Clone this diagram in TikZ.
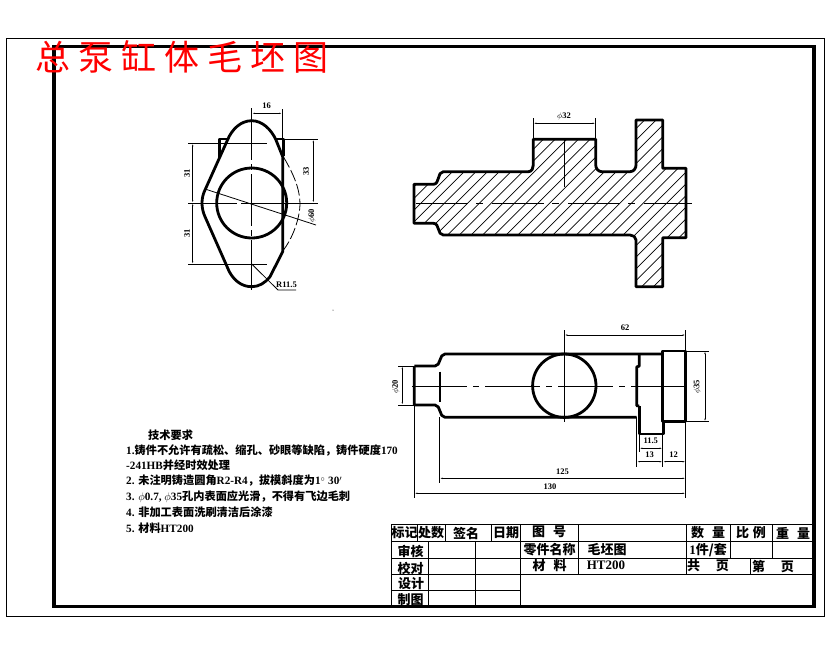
\documentclass[tikz,border=0pt]{standalone}
\usepackage{fontspec}
\setmainfont{Liberation Serif}
\newfontfamily\cjk{Noto Sans CJK SC}
\newfontfamily\cjktitle[LetterSpace=23]{Noto Sans CJK SC}
\usetikzlibrary{arrows.meta}

\begin{document}
\begin{tikzpicture}[x=1pt,y=-1pt]

\tikzset{thick line/.style = {line width=2.8pt, line join=round}}
\tikzset{thin line/.style = {line width=0.8pt}}
\tikzset{axis/.style = {line width=0.8pt, dash pattern=on 55pt off 6pt on 6pt off 6pt}}
\tikzset{dim/.style = {line width=0.8pt, {Latex[length=3pt,width=1.4pt]}-{Latex[length=3pt,width=1.4pt]}}}
\tikzset{dimtext/.style = {inner sep=0pt, font=\bfseries\fontsize{8.5}{9}\selectfont}}
\tikzset{note/.style = {anchor=west, inner sep=0pt, font=\bfseries\fontsize{11.2}{11}\selectfont}}
\tikzset{cell/.style = {inner sep=0pt, font=\bfseries\fontsize{13}{13}\selectfont}}

\useasboundingbox (0,0) rectangle (830,654);
%frames
\draw [line width=0.9pt] (6.5,38.5) rectangle (824,616.5);
\draw [line width=3.6pt] (54,46.5) rectangle (814,606.5);
\node [inner sep=0pt, anchor=west, red, font=\cjktitle\fontsize{35}{35}\selectfont] (title) at (35,57) {总泵缸体毛坯图};

%left view
\draw [thick line] (227.5,140) .. controls (232,129) and (241,120.7) .. (251.7,120.7)
  .. controls (262,120.7) and (271,129) .. (276,140) -- (282.7,156.7) -- (282.7,251.7) -- (270,276.7)
  .. controls (265,283) and (259,286.7) .. (251.7,286.7) .. controls (243,286.7) and (235,282) .. (229.3,271.7)
  -- (205,216.7) .. controls (201,208) and (201,198) .. (205,190) -- cycle;
\draw [thick line] (227,139) -- (219.5,139) -- (219.5,158);
\draw [thick line] (276,139) -- (283.5,139) -- (283.5,156);
\draw [thick line] (251.7,203) circle (35);
\draw [axis, dash pattern=on 52pt off 4pt on 6pt off 4pt] (251.7,108) -- (251.7,290);
\draw [axis, dash pattern=on 49pt off 4pt on 80pt off 4pt] (188,203) -- (300,203);
\draw [thin line] (188,143.3) -- (267,143.3);
\draw [thin line] (188,264.3) -- (267,264.3);
\draw [thin line] (283,139.3) -- (318,139.3);
\draw [thin line] (287,203) -- (318,203);
\draw [thin line] (282.3,109) -- (282.3,140);
\draw [dim] (192.7,143.3) -- (192.7,203);
\draw [dim] (192.7,203) -- (192.7,264.3);
\draw [dim] (313.3,139.3) -- (313.3,203);
\draw [dim] (251.7,113.3) -- (282.3,113.3);
\draw [thin line] (205,189) -- (316,225);
\draw [thin line, dash pattern=on 12pt off 3pt] (283.5,157) .. controls (296,178) and (302,195) .. (299.3,212) .. controls (297,226) and (291,240) .. (283.5,250);
\draw [thin line] (251.7,264) -- (278,290) -- (296,290);
\node [dimtext] (dimTop) at (266.5,106) {16};
\node [dimtext, rotate=90] (dimLeftA) at (187,173.5) {31};
\node [dimtext, rotate=90] (dimLeftB) at (187,233.5) {31};
\node [dimtext, rotate=90] (dimRight) at (306,171.7) {33};
\node [dimtext, rotate=90] (dimDia) at (312,216) {$\phi$60};
\node [dimtext] (dimRad) at (286.5,285) {R11.5};

%section view
\begin{scope}
\clip (414,184.3) -- (433.3,184.3) .. controls (440,184.3) and (437,171.7) .. (443.3,171.7)
  -- (528.3,171.7) .. controls (532,171.7) and (533.3,168) .. (533.3,165) -- (533.3,139.3) -- (595.7,139.3) -- (595.7,165)
  .. controls (595.7,168) and (598,171.7) .. (601.7,171.7) -- (630,171.7) .. controls (634,171.7) and (636,168) .. (636,165)
  -- (636,120) -- (662.7,120) -- (662.7,168.3) -- (686,168.3) -- (686,237.7) -- (662.7,237.7) -- (662.7,286.7) -- (636,286.7)
  -- (636,240) .. controls (636,237) and (633,235) .. (630,235) -- (443.3,235) .. controls (437,235) and (440,223.3) .. (433.3,223.3)
  -- (414,223.3) -- cycle;
\foreach \i in {-16,...,24}
  \draw [line width=0.7pt] (410+11.7*\i,296) -- (410+11.7*\i+190,106);
\end{scope}
\draw [thick line] (414,184.3) -- (433.3,184.3) .. controls (440,184.3) and (437,171.7) .. (443.3,171.7)
  -- (528.3,171.7) .. controls (532,171.7) and (533.3,168) .. (533.3,165) -- (533.3,139.3) -- (595.7,139.3) -- (595.7,165)
  .. controls (595.7,168) and (598,171.7) .. (601.7,171.7) -- (630,171.7) .. controls (634,171.7) and (636,168) .. (636,165)
  -- (636,120) -- (662.7,120) -- (662.7,168.3) -- (686,168.3) -- (686,237.7) -- (662.7,237.7) -- (662.7,286.7) -- (636,286.7)
  -- (636,240) .. controls (636,237) and (633,235) .. (630,235) -- (443.3,235) .. controls (437,235) and (440,223.3) .. (433.3,223.3)
  -- (414,223.3) -- cycle;
\draw [axis, dash pattern=on 52pt off 8pt on 7pt off 9pt] (416,203.3) -- (691.7,203.3);
\draw [thin line] (564.3,139.3) -- (564.3,187.3);
\draw [thin line] (533.3,118.3) -- (533.3,139.3);
\draw [thin line] (595.7,118.3) -- (595.7,139.3);
\draw [dim] (533.3,123.3) -- (595.7,123.3);
\node [dimtext] (dimBoss) at (564,116.7) {$\phi$32};

%top view
\draw [thick line] (414.3,366) -- (414.3,405) -- (435,405) .. controls (441,405) and (439,417.3) .. (445,417.3) -- (636.7,417.3);
\draw [thick line] (414.3,366) -- (435,366) .. controls (441,366) and (439,354) .. (445,354) -- (662,354);
\draw [thick line] (440,371.7) -- (440,402.3);
\draw [thick line] (662.3,351) rectangle (685.7,421.7);
\draw [thick line] (639.3,406) -- (639.3,434) -- (663.3,434) -- (663.3,421.7);
\draw [thick line] (639.3,354) -- (639.3,366) -- (636.7,367) -- (636.7,405.7) -- (639.3,406);
\draw [thick line] (564.3,385.7) circle (31.7);
\draw [axis] (412,386.3) -- (691,386.3);
\draw [thin line] (564.3,330) -- (564.3,422.3);
\draw [thin line] (685.7,330) -- (685.7,351);
\draw [thin line] (686,351) -- (709,351);
\draw [thin line] (686,421.7) -- (709,421.7);
\draw [thin line] (398,366) -- (414,366);
\draw [thin line] (398,405) -- (414,405);
\draw [thin line] (414.3,405) -- (414.3,498);
\draw [thin line] (439.5,417) -- (439.5,483);
\draw [thin line] (636.7,417) -- (636.7,467);
\draw [thin line] (639.3,434) -- (639.3,452);
\draw [thin line] (662.7,434) -- (662.7,467);
\draw [thin line] (685.7,421.7) -- (685.7,498);
\draw [dim] (564.3,335) -- (685.7,335);
\draw [dim] (705,351) -- (705,421.7);
\draw [dim] (402.3,366) -- (402.3,405);
\draw [dim] (639.3,448.3) -- (662.7,448.3);
\draw [dim] (636.7,461.7) -- (662.7,461.7);
\draw [dim] (662.7,461.7) -- (685.7,461.7);
\draw [dim] (439.5,478.3) -- (685.7,478.3);
\draw [dim] (414.3,493.3) -- (685.7,493.3);
\node [dimtext] (dimSixtyTwo) at (625,327.7) {62};
\node [dimtext, rotate=90] (dimFlange) at (697.3,386.7) {$\phi$35};
\node [dimtext, rotate=90] (dimNeck) at (395.7,386.7) {$\phi$20};
\node [dimtext] (dimBossW) at (650.7,441) {11.5};
\node [dimtext] (dimThirteen) at (649.5,455) {13};
\node [dimtext] (dimTwelve) at (673.5,455) {12};
\node [dimtext] (dimInner) at (562.5,472) {125};
\node [dimtext] (dimTotal) at (550,487) {130};
\fill (333,310) circle (0.5);

%notes
\node [note] (noteHead) at (148,435) {{\cjk 技术要求}};
\node [note] (noteA) at (126,450.5) {1.{\cjk 铸件不允许有疏松、缩孔、砂眼等缺陷，铸件硬度}170};
\node [note] (noteB) at (126,465.5) {-241HB{\cjk 并经时效处理}};
\node [note] (noteC) at (126,481) {2. {\cjk 未注明铸造圆角}R2-R4{\cjk ，拔模斜度为}1$^\circ$ 30$'$};
\node [note] (noteD) at (126,496.5) {3. $\phi$0.7, $\phi$35{\cjk 孔内表面应光滑，不得有飞边毛刺}};
\node [note] (noteE) at (126,512) {4. {\cjk 非加工表面洗刷清洁后涂漆}};
\node [note] (noteF) at (126,528) {5. {\cjk 材料}HT200};

%title block
\draw [line width=1pt] (391,524) -- (814,524);
\draw [line width=1pt] (391,541.3) -- (814,541.3);
\draw [line width=1pt] (391,558.7) -- (814,558.7);
\draw [line width=1pt] (391,574.7) -- (814,574.7);
\draw [line width=1pt] (391,590.7) -- (520,590.7);
\draw [line width=1pt] (391.5,524) -- (391.5,606);
\draw [line width=1pt] (417.3,524) -- (417.3,541.3);
\draw [line width=1pt] (445,524) -- (445,541.3);
\draw [line width=1pt] (491.7,524) -- (491.7,541.3);
\draw [line width=1pt] (428.3,541.3) -- (428.3,606);
\draw [line width=1pt] (475.7,541.3) -- (475.7,606);
\draw [line width=1pt] (520,524) -- (520,606);
\draw [line width=1pt] (578.3,524) -- (578.3,574.7);
\draw [line width=1pt] (686.7,524) -- (686.7,574.7);
\draw [line width=1pt] (730,524) -- (730,558.7);
\draw [line width=1pt] (772.7,524) -- (772.7,558.7);
\draw [line width=1pt] (750,558.7) -- (750,574.7);
\node [cell] (mark) at (404.5,533) {\cjk 标记};
\node [cell] (count) at (431,533) {\cjk 处数};
\node [cell] (sign) at (466,533) {\cjk 签名};
\node [cell] (date) at (506,533) {\cjk 日期};
\node [cell] (drawNo) at (549,532) {\cjk 图\hspace{8pt}号};
\node [cell] (qty) at (708,533) {\cjk 数\hspace{8pt}量};
\node [cell] (ratio) at (751,532.5) {\cjk 比\hspace{4pt}例};
\node [cell] (weight) at (793,533) {\cjk 重\hspace{8pt}量};
\node [cell] (check) at (410.5,551) {\cjk 审核};
\node [cell] (partName) at (549.5,550) {\cjk 零件名称};
\node [cell] (partTitle) at (607,549.5) {\cjk 毛坯图};
\node [cell] (perSet) at (708,550.5) {1{\cjk 件/套}};
\node [cell] (proof) at (410.5,568) {\cjk 校对};
\node [cell] (material) at (549.5,566) {\cjk 材\hspace{8pt}料};
\node [cell] (grade) at (606,565.5) {HT200};
\node [cell] (total) at (708,566) {\cjk 共\hspace{16pt}页};
\node [cell] (sheet) at (773,566) {\cjk 第\hspace{16pt}页};
\node [cell] (design) at (411,584) {\cjk 设计};
\node [cell] (drawn) at (410.5,600) {\cjk 制图};

\end{tikzpicture}
\end{document}
